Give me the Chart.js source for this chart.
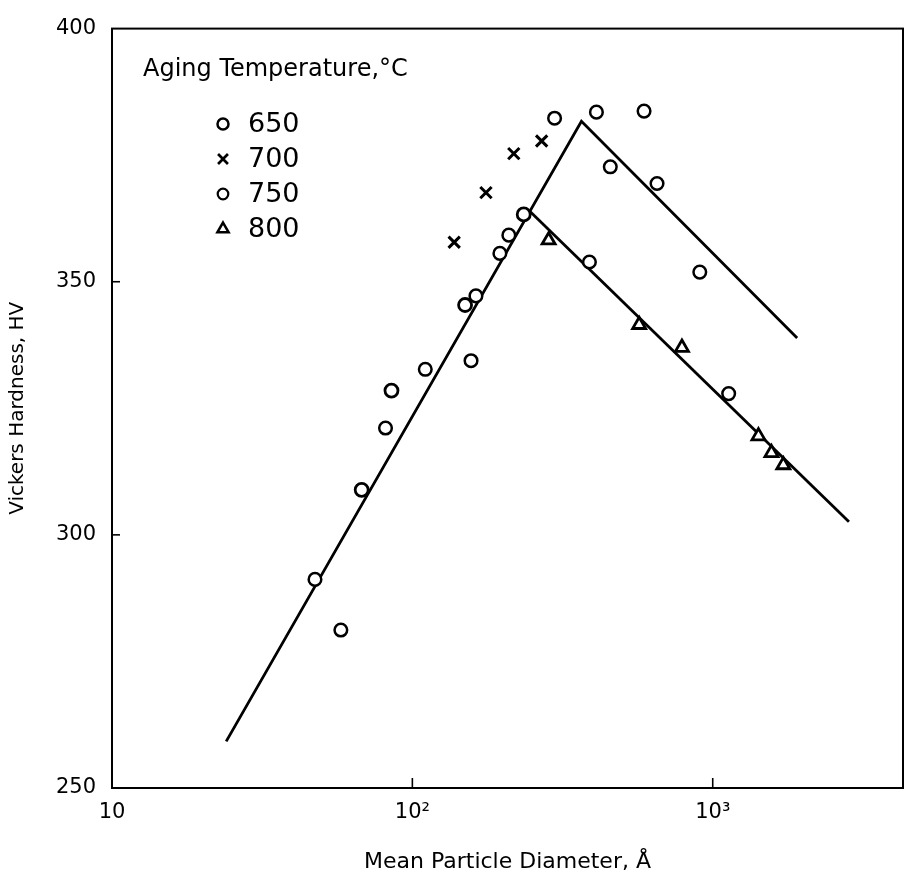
<!DOCTYPE html>
<html><head><meta charset="utf-8">
<script src="https://cdn.jsdelivr.net/npm/chart.js@4.4.1/dist/chart.umd.min.js"></script>
<style>html,body{margin:0;padding:0;background:#fff;} #wrap{width:914px;height:879px;position:relative;}</style>
</head><body><div id="wrap"><canvas id="c"></canvas></div>
<script>
// ---- data ----
const xTickValues = [10, 100, 1000];
const xTickLabels = ['10', '10²', '10³'];
const yTickValues = [250, 300, 350, 400];
const legendTitle = 'Aging Temperature,°C';
const seriesNames = ['650', '700', '750', '800'];

const t650x = [67.8, 85.2, 149.8, 234.8];
const t650y = [308.9, 328.5, 345.4, 363.3];
const t700x = [137.8, 175.8, 217.6, 269.4];
const t700y = [357.8, 367.6, 375.3, 377.8];
const t750x = [47.4, 57.8, 81.4, 110.4, 156.8, 162.8, 195.6, 209.5, 297.5, 410.0, 590.7, 456.0, 652.5, 905.6, 388.6, 1130];
const t750y = [291.2, 281.2, 321.1, 332.7, 334.4, 347.2, 355.6, 359.2, 382.3, 383.5, 383.7, 372.7, 369.4, 351.9, 353.9, 327.9];
const t800x = [284.2, 568.9, 789.7, 1420, 1569, 1718];
const t800y = [358.2, 341.5, 337.0, 319.5, 316.2, 313.8];
const upperLineX = [24.0, 365.5, 1910];
const upperLineY = [259.2, 381.7, 338.9];
const lowerLineX = [246.0, 2841];
const lowerLineY = [363.9, 302.6];

const pts = (xs, ys) => xs.map((x, i) => ({x: x, y: ys[i]}));
const FONT = '"DejaVu Sans", "Open Sans", sans-serif';

const markerStyles = [
  {pointStyle: 'circle', radius: 6.5, borderWidth: 2.8},
  {pointStyle: 'crossRot', radius: 8, borderWidth: 3},
  {pointStyle: 'circle', radius: 6.3, borderWidth: 2.5},
  {pointStyle: 'triangle', radius: 7.5, borderWidth: 2.8}
];

const scatterSets = [pts(t650x, t650y), pts(t700x, t700y), pts(t750x, t750y), pts(t800x, t800y)].map((d, i) => ({
  label: seriesNames[i], data: d, showLine: false,
  pointStyle: markerStyles[i].pointStyle, pointRadius: markerStyles[i].radius,
  pointBorderWidth: markerStyles[i].borderWidth, borderColor: '#000',
  backgroundColor: '#fff', pointBackgroundColor: '#fff', order: 1
}));
const lineSets = [pts(upperLineX, upperLineY), pts(lowerLineX, lowerLineY)].map(d => ({
  label: 'fit', data: d, showLine: true, pointRadius: 0, borderColor: '#000',
  borderWidth: 2.8, fill: false, order: 2
}));

const framePlugin = {
  id: 'frame',
  afterDraw(chart) {
    const {ctx, chartArea: a, scales} = chart;
    ctx.save();
    ctx.strokeStyle = '#000';
    ctx.lineWidth = 2;
    ctx.strokeRect(a.left, a.top, a.right - a.left, a.bottom - a.top);
    ctx.lineWidth = 1.6;
    [100, 1000].forEach(v => {
      const px = scales.x.getPixelForValue(v);
      ctx.beginPath(); ctx.moveTo(px, a.bottom); ctx.lineTo(px, a.bottom - 10); ctx.stroke();
    });
    [300, 350].forEach(v => {
      const py = scales.y.getPixelForValue(v);
      ctx.beginPath(); ctx.moveTo(a.left, py); ctx.lineTo(a.left + 8, py); ctx.stroke();
    });
    // legend
    ctx.fillStyle = '#000';
    ctx.textBaseline = 'middle';
    ctx.textAlign = 'left';
    ctx.font = '24px ' + FONT;
    ctx.fillText(legendTitle, a.left + 31, 70);
    const rows = [124, 159, 194, 229];
    seriesNames.forEach((name, i) => {
      const ms = markerStyles[i];
      ctx.lineWidth = ms.borderWidth - 0.3;
      ctx.strokeStyle = '#000';
      ctx.fillStyle = '#fff';
      Chart.helpers.drawPoint(ctx, {pointStyle: ms.pointStyle, radius: ms.radius - 1, borderWidth: ms.borderWidth - 0.3}, a.left + 111, rows[i]);
      ctx.fillStyle = '#000';
      ctx.font = '27px ' + FONT;
      ctx.fillText(name, a.left + 136, rows[i] + 1);
    });
    ctx.restore();
  }
};

new Chart(document.getElementById('c'), {
  type: 'scatter',
  data: {datasets: [...scatterSets, ...lineSets]},
  plugins: [framePlugin],
  options: {
    responsive: true, maintainAspectRatio: false, animation: false,
    layout: {padding: {top: 24, right: 6, left: 0, bottom: 0}},
    plugins: {legend: {display: false}, tooltip: {enabled: false}},
    scales: {
      x: {
        type: 'logarithmic', min: 10, max: 4300,
        afterBuildTicks(s) { s.ticks = xTickValues.map(v => ({value: v})); },
        afterFit(s) { s.height = 91; },
        ticks: {
          autoSkip: false, maxRotation: 0, padding: 12, color: '#000',
          font: {size: 21, family: FONT},
          callback(v) { const i = xTickValues.indexOf(v); return i >= 0 ? xTickLabels[i] : ''; }
        },
        grid: {display: false, drawTicks: false},
        border: {display: false},
        title: {display: true, text: 'Mean Particle Diameter, Å', color: '#000',
                font: {size: 22, family: FONT}, padding: {top: 6}}
      },
      y: {
        type: 'linear', min: 250, max: 400,
        afterBuildTicks(s) { s.ticks = yTickValues.map(v => ({value: v})); },
        afterFit(s) { s.width = 112; },
        ticks: {padding: 16, color: '#000', font: {size: 21, family: FONT}},
        grid: {display: false, drawTicks: false},
        border: {display: false},
        title: {display: true, text: 'Vickers Hardness, HV', color: '#000',
                font: {size: 20, family: FONT}, padding: {top: 6, bottom: 0}}
      }
    }
  }
});
</script></body></html>
